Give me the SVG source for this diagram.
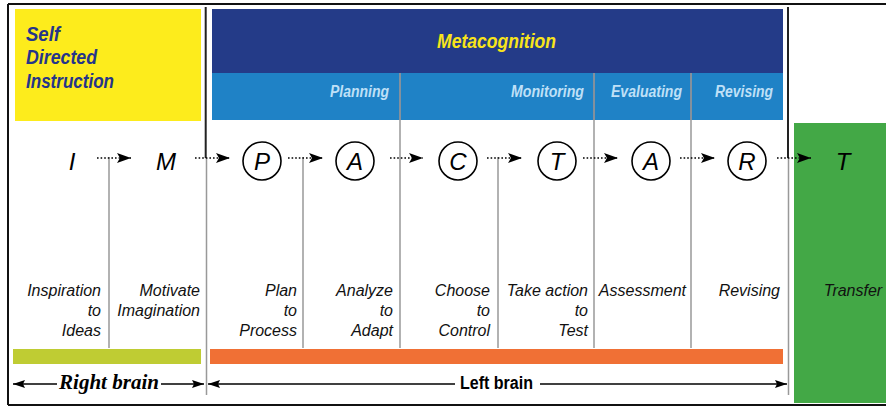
<svg xmlns="http://www.w3.org/2000/svg" width="886" height="407" viewBox="0 0 886 407">
<defs>
<marker id="ah" viewBox="0 0 14 10" refX="14" refY="5" markerWidth="14" markerHeight="10" markerUnits="userSpaceOnUse" orient="auto">
<path d="M0,0 L14,5 L0,10 L3,5 Z" fill="#000"/>
</marker>
<marker id="ahs" viewBox="0 0 12 8" refX="12" refY="4" markerWidth="12" markerHeight="8" markerUnits="userSpaceOnUse" orient="auto-start-reverse">
<path d="M0,0 L12,4 L0,8 L2,4 Z" fill="#000"/>
</marker>
</defs>
<style>
.flow{stroke:#000;stroke-width:1.6;stroke-dasharray:1.6 2;fill:none}
.div{stroke:#999;stroke-width:1.5;fill:none}
.blk{stroke:#222;stroke-width:2;fill:none}
.circ{fill:#fff;stroke:#000;stroke-width:1.6}
.let{font-family:"Liberation Sans",Arial,sans-serif;font-style:italic;font-size:24px;fill:#000;text-anchor:middle}
.lbl{font-family:"Liberation Sans",Arial,sans-serif;font-style:italic;font-size:16px;fill:#111;text-anchor:end}
.hd{font-family:"Liberation Sans",Arial,sans-serif;font-style:italic;font-weight:bold;font-size:16px;fill:#bfe0f7;text-anchor:end}
.sdi{font-family:"Liberation Sans",Arial,sans-serif;font-style:italic;font-weight:bold;font-size:21px;fill:#25358a}
.brn{stroke:#000;stroke-width:1.4;fill:none}
</style>
<rect x="0" y="0" width="886" height="407" fill="#fff"/>
<!-- frame -->
<path d="M8,4 H886 M8,4 V405 M8,405 H886" stroke="#111" stroke-width="2" fill="none"/>

<g id="self-directed">
<rect x="15" y="9" width="186" height="112" fill="#fdec1c"/>
<text class="sdi" x="26" y="41" textLength="34" lengthAdjust="spacingAndGlyphs">Self</text>
<text class="sdi" x="26" y="64" textLength="71" lengthAdjust="spacingAndGlyphs">Directed</text>
<text class="sdi" x="26" y="88" textLength="88" lengthAdjust="spacingAndGlyphs">Instruction</text>
</g>

<g id="metacognition">
<rect x="212" y="9" width="571" height="64" fill="#243b88"/>
<text x="437" y="48" font-family="Liberation Sans, Arial, sans-serif" font-style="italic" font-weight="bold" font-size="20" fill="#f8e41a" textLength="119" lengthAdjust="spacingAndGlyphs">Metacognition</text>
</g>

<g id="phases">
<rect x="212" y="73" width="571" height="47" fill="#1f82c6"/>
<text class="hd" x="389" y="97" textLength="59" lengthAdjust="spacingAndGlyphs">Planning</text>
<text class="hd" x="584" y="97" textLength="73" lengthAdjust="spacingAndGlyphs">Monitoring</text>
<text class="hd" x="682" y="97" textLength="71" lengthAdjust="spacingAndGlyphs">Evaluating</text>
<text class="hd" x="773" y="97" textLength="58" lengthAdjust="spacingAndGlyphs">Revising</text>
</g>

<g id="transfer">
<rect x="794" y="123" width="92" height="280" fill="#43a846"/>
<text class="let" x="843" y="170">T</text>
<text class="lbl" x="853" y="296" style="text-anchor:middle">Transfer</text>
</g>

<g id="bars">
<rect x="13" y="349" width="188" height="15" fill="#bfcc33"/>
<rect x="210" y="349" width="573" height="15" fill="#f07035"/>
</g>

<g id="dividers">
<path class="blk" d="M205.7,7 V158 M788,7 V158"/>
<path class="div" d="M206.5,158 V395 M788.5,158 V395"/>
<path class="div" d="M400,73 V348 M594,73 V348 M691,73 V348"/>
<path class="div" d="M109,157 V348 M303,157 V348 M498,157 V348"/>
<path d="M400,73 V120 M594,73 V120 M691,73 V120" stroke="#8a8f99" stroke-width="1.2"/>
</g>

<g id="node-I"><text class="let" x="72" y="170">I</text></g>
<g id="node-M"><text class="let" x="166" y="170">M</text></g>
<g id="node-P"><circle class="circ" cx="262" cy="161" r="19"/><text class="let" x="262" y="170">P</text></g>
<g id="node-A1"><circle class="circ" cx="355" cy="161" r="19"/><text class="let" x="355" y="170">A</text></g>
<g id="node-C"><circle class="circ" cx="458" cy="161" r="19"/><text class="let" x="458" y="170">C</text></g>
<g id="node-T"><circle class="circ" cx="557" cy="161" r="19"/><text class="let" x="557" y="170">T</text></g>
<g id="node-A2"><circle class="circ" cx="651" cy="161" r="19"/><text class="let" x="651" y="170">A</text></g>
<g id="node-R"><circle class="circ" cx="747" cy="161" r="19"/><text class="let" x="747" y="170">R</text></g>

<g id="connectors">
<path class="flow" d="M97,158 H131" marker-end="url(#ah)"/>
<path class="flow" d="M195,158 H230" marker-end="url(#ah)"/>
<path class="flow" d="M288,158 H323" marker-end="url(#ah)"/>
<path class="flow" d="M390,158 H423" marker-end="url(#ah)"/>
<path class="flow" d="M487,158 H522" marker-end="url(#ah)"/>
<path class="flow" d="M583,158 H618" marker-end="url(#ah)"/>
<path class="flow" d="M680,158 H715" marker-end="url(#ah)"/>
<path class="flow" d="M777,158 H811" marker-end="url(#ah)"/>
</g>

<g id="labels">
<text class="lbl" x="101" y="296">Inspiration</text>
<text class="lbl" x="101" y="316">to</text>
<text class="lbl" x="101" y="336">Ideas</text>
<text class="lbl" x="200" y="296">Motivate</text>
<text class="lbl" x="200" y="316">Imagination</text>
<text class="lbl" x="297" y="296">Plan</text>
<text class="lbl" x="297" y="316">to</text>
<text class="lbl" x="297" y="336">Process</text>
<text class="lbl" x="393" y="296">Analyze</text>
<text class="lbl" x="393" y="316">to</text>
<text class="lbl" x="393" y="336">Adapt</text>
<text class="lbl" x="490" y="296">Choose</text>
<text class="lbl" x="490" y="316">to</text>
<text class="lbl" x="490" y="336">Control</text>
<text class="lbl" x="588" y="296">Take action</text>
<text class="lbl" x="588" y="316">to</text>
<text class="lbl" x="588" y="336">Test</text>
<text class="lbl" x="686" y="296">Assessment</text>
<text class="lbl" x="780" y="296">Revising</text>
</g>

<g id="brain-axis">
<path class="brn" d="M57,384 H13" marker-end="url(#ahs)"/>
<path class="brn" d="M161,384 H204" marker-end="url(#ahs)"/>
<text x="109" y="389" font-family="Liberation Serif, serif" font-style="italic" font-weight="bold" font-size="20" fill="#000" text-anchor="middle" textLength="100" lengthAdjust="spacingAndGlyphs">Right brain</text>
<path class="brn" d="M455,384 H208" marker-end="url(#ahs)"/>
<path class="brn" d="M540,384 H787" marker-end="url(#ahs)"/>
<text x="460" y="389" font-family="Liberation Sans, Arial, sans-serif" font-weight="bold" font-size="18" fill="#000" textLength="73" lengthAdjust="spacingAndGlyphs">Left brain</text>
</g>
</svg>
